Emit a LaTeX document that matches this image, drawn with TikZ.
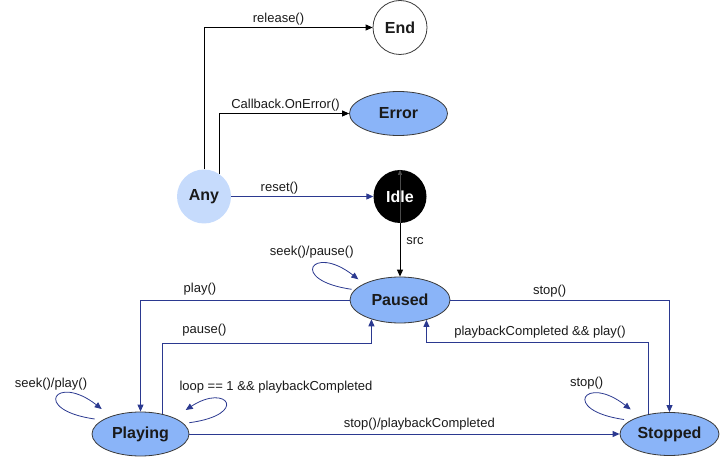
\documentclass[tikz,border=0pt]{standalone}
\usepackage{fontspec}
\setmainfont{Liberation Sans}
\usetikzlibrary{shapes.geometric,arrows.meta,calc}
\definecolor{stateblue}{HTML}{8AB4F8}
\definecolor{anyblue}{HTML}{C6DBFC}
\definecolor{navy}{HTML}{2B3990}
\definecolor{edgegray}{HTML}{3A3A3A}
\definecolor{txt}{HTML}{1A1A1A}
\begin{document}
\begin{tikzpicture}[x=1pt,y=-1pt,
  lbl/.style={font=\fontsize{13}{15}\selectfont, text=txt, inner sep=0pt},
  stateell/.style={ellipse, draw=edgegray, line width=0.8pt, fill=stateblue,
    minimum width=98pt, minimum height=44pt, inner sep=0pt, text=txt,
    font=\fontsize{16}{18}\selectfont\bfseries},
  statecirc/.style={circle, minimum size=54pt, inner sep=0pt,
    font=\fontsize{16}{18}\selectfont\bfseries},
  tip/.style={-{Triangle[length=7pt,width=6pt]}},
  blk/.style={draw=black, line width=0.9pt, tip},
  nav/.style={draw=navy, line width=0.9pt, tip},
  loopst/.style={draw=navy, line width=0.8pt, tip}
]
\useasboundingbox (0,0) rectangle (720,457);

% nodes
\node[statecirc, draw=edgegray, line width=0.8pt, fill=white, text=txt] (End) at (400,27.5) {End};
\node[stateell] (Error) at (398.5,113.5) {Error};
\node[statecirc, fill=anyblue, text=txt] (Any) at (204,196.5) {Any};
\node[statecirc, fill=black, text=white, minimum size=53pt] (Idle) at (400,196.5) {Idle};
\node[stateell, minimum width=100pt, minimum height=46pt] (Paused) at (400,300) {Paused};
\node[stateell, minimum width=97pt] (Playing) at (140.5,434) {Playing};
\node[stateell, minimum width=99pt, minimum height=43pt] (Stopped) at (669.5,434) {Stopped};

% helper coordinates
\coordinate (yPause) at (0,343);
\coordinate (yBack) at (0,342);

% connectors from Any
\draw[blk] (Any.north) |- (End.west);
\draw[blk] (Any.56) |- (Error.west);
\draw[nav] (Any.east) -- (Idle.west);
\draw[gray!60!black, line width=0.5pt, -{Triangle[length=5pt,width=4pt]}] (Idle.south) -- (Idle.north);
\draw[blk] (Idle.south) -- (Paused.north);

% Paused / Playing / Stopped
\draw[nav] (Paused.west) -| (Playing.north);
\draw[nav] (Playing.42) -- (Playing.42 |- yPause) -- (Paused.214 |- yPause) -- (Paused.214);
\draw[nav] (Paused.east) -| (Stopped.north);
\draw[nav] (Stopped.136) -- (Stopped.136 |- yBack) -- (Paused.323 |- yBack) -- (Paused.323);
\draw[nav] (Playing.east) -- (Stopped.west);

% self loops
\draw[loopst] ($(Paused.center)+(-48.3,-10.7)$) .. controls +(-64,-9) and +(-46,-36) .. ($(Paused.center)+(-41.7,-20.7)$);
\draw[loopst] ($(Playing.center)+(-45.8,-15)$) .. controls +(-64,-9) and +(-46,-36) .. ($(Playing.center)+(-38.8,-25)$);
\draw[loopst] ($(Stopped.center)+(-45.5,-14.5)$) .. controls +(-64,-9) and +(-46,-36) .. ($(Stopped.center)+(-38.8,-24.5)$);
\draw[loopst] ($(Playing.center)+(48.8,-11.3)$) .. controls +(60,-8) and +(41.6,-27.3) .. ($(Playing.center)+(45.2,-24)$);

% labels
\node[lbl] (lRelease) at (278.5,19) {release()};
\node[lbl] (lError) at (285.5,105) {Callback.OnError()};
\node[lbl] (lReset) at (279.5,188) {reset()};
\node[lbl] (lSrc) at (415,241) {src};
\node[lbl] (lSeekPause) at (311.7,251.7) {seek()/pause()};
\node[lbl] (lPlay) at (200,289) {play()};
\node[lbl] (lPause) at (204.5,330) {pause()};
\node[lbl] (lSeekPlay) at (51,384) {seek()/play()};
\node[lbl] (lLoop) at (276,387) {loop == 1 \&\& playbackCompleted};
\node[lbl] (lStopPC) at (419.3,424.3) {stop()/playbackCompleted};
\node[lbl] (lStop) at (549.7,291) {stop()};
\node[lbl] (lBack) at (540,332.3) {playbackCompleted \&\& play()};
\node[lbl] (lStopSelf) at (586.7,383) {stop()};
\end{tikzpicture}
\end{document}
